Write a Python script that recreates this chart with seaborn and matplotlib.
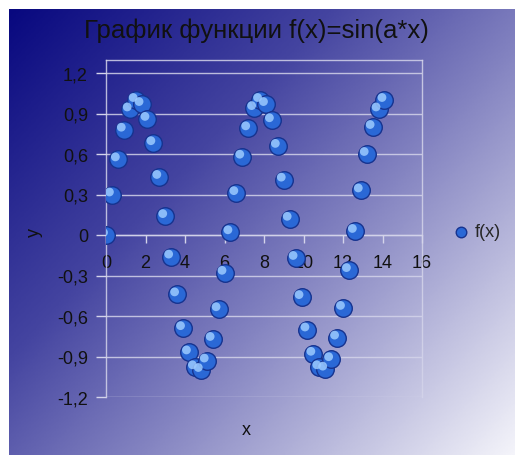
import numpy as np
import pandas as pd
import seaborn as sb
import matplotlib.pyplot as plt
from matplotlib.colors import LinearSegmentedColormap
from matplotlib.transforms import offset_copy

## ---------------- values ----------------------------------------
xval = [0.0, 0.3, 0.6, 0.9, 1.2, 1.5, 1.8, 2.1, 2.4, 2.7, 3.0, 3.3,
        3.6, 3.9, 4.2, 4.5, 4.8, 5.1, 5.4, 5.7, 6.0, 6.3, 6.6, 6.9,
        7.2, 7.5, 7.8, 8.1, 8.4, 8.7, 9.0, 9.3, 9.6, 9.9, 10.2, 10.5,
        10.8, 11.1, 11.4, 11.7, 12.0, 12.3, 12.6, 12.9, 13.2, 13.5, 13.8, 14.1]
fx = [0.00, 0.30, 0.56, 0.78, 0.93, 1.00, 0.97, 0.86, 0.68, 0.43, 0.14, -0.16,
      -0.44, -0.69, -0.87, -0.98, -1.00, -0.93, -0.77, -0.55, -0.28, 0.02, 0.31, 0.58,
      0.79, 0.94, 1.00, 0.97, 0.85, 0.66, 0.41, 0.12, -0.17, -0.46, -0.70, -0.88,
      -0.98, -0.99, -0.92, -0.76, -0.54, -0.26, 0.03, 0.33, 0.60, 0.80, 0.93, 1.00]
xticks = [0, 2, 4, 6, 8, 10, 12, 14, 16]
yticks = [-1.2, -0.9, -0.6, -0.3, 0, 0.3, 0.6, 0.9, 1.2]
ylabels = ["-1,2", "-0,9", "-0,6", "-0,3", "0", "0,3", "0,6", "0,9", "1,2"]

data = pd.DataFrame({"x": xval, "f(x)": fx})

sb.set_theme(style="white")
plt.rcParams['font.family'] = ['Liberation Sans', 'DejaVu Sans']

W, H = 515, 456
fig = plt.figure(figsize=(W / 100, H / 100), dpi=100)
fig.patch.set_facecolor("white")

## diagonal background gradient
bg = fig.add_axes([9 / W, 0, (W - 9) / W, (H - 10) / H])
u, v = np.meshgrid(np.linspace(0, 1, 300), np.linspace(0, 1, 300))
t = 0.55 * u + 0.45 * v
cmap = LinearSegmentedColormap.from_list(
    "bg", [(0, "#08087f"), (0.35, "#4444a0"), (0.6, "#8686c2"), (1, "#f4f4fa")])
bg.imshow(t, cmap=cmap, aspect="auto", extent=[0, 1, 1, 0], vmin=0, vmax=1)
bg.set_axis_off()
bg.set_zorder(0)

ax = fig.add_axes([106 / W, 58 / H, 316 / W, 337 / H])
ax.set_zorder(1)
ax.patch.set_alpha(0)

gridc = "#d4d4ea"
sb.scatterplot(data=data, x="x", y="f(x)", ax=ax, s=160, color="#2a68d6",
               edgecolor="#16338f", linewidth=1.0, label="f(x)", zorder=3)
sb.scatterplot(data=data, x="x", y="f(x)", ax=ax, s=40, color="#9ccaff",
               edgecolor="none", alpha=0.85, label="_nolegend_", zorder=4)
ax.collections[-1].set_offset_transform(
    offset_copy(ax.transData, fig=fig, x=-2.5, y=2.5, units="dots"))

ax.set_xlim(0, 16)
ax.set_ylim(-1.2, 1.2 + 13 / 135)
ax.set_xticks(xticks)
ax.set_yticks(yticks)
ax.set_yticklabels(ylabels)
ax.yaxis.grid(True, color=gridc, linewidth=1, alpha=0.85)
ax.xaxis.grid(False)

for s in ["left", "top", "right", "bottom"]:
    ax.spines[s].set_visible(True)
    ax.spines[s].set_color(gridc)
    ax.spines[s].set_linewidth(1)
    ax.spines[s].set_alpha(0.85)
ax.spines["bottom"].set_position(("data", 0))

ax.tick_params(axis="y", direction="out", length=7, width=1, color=gridc,
               pad=6, labelsize=13, labelcolor="#111111", left=True)
ax.tick_params(axis="x", direction="out", length=6, width=1, color=gridc,
               pad=8, labelsize=13, labelcolor="#111111", bottom=True)

ax.set_xlabel("x", fontsize=13, color="#111111")
ax.set_ylabel("y", fontsize=13, color="#111111")
ax.xaxis.set_label_coords(0.443, -0.07)
ax.yaxis.set_label_coords(-0.2, 0.49)

ax.legend(loc="center left", bbox_to_anchor=(455 / W, 1 - 233 / H),
          bbox_transform=fig.transFigure, frameon=False, fontsize=13,
          markerscale=0.6, handlelength=0.7, handletextpad=0.4,
          borderaxespad=0, borderpad=0)

fig.text(256 / W, 1 - 38 / H, "График функции f(x)=sin(a*x)", fontsize=18.5,
         ha="center", va="baseline", color="#111111")

fig.savefig("out.png", dpi=100)
